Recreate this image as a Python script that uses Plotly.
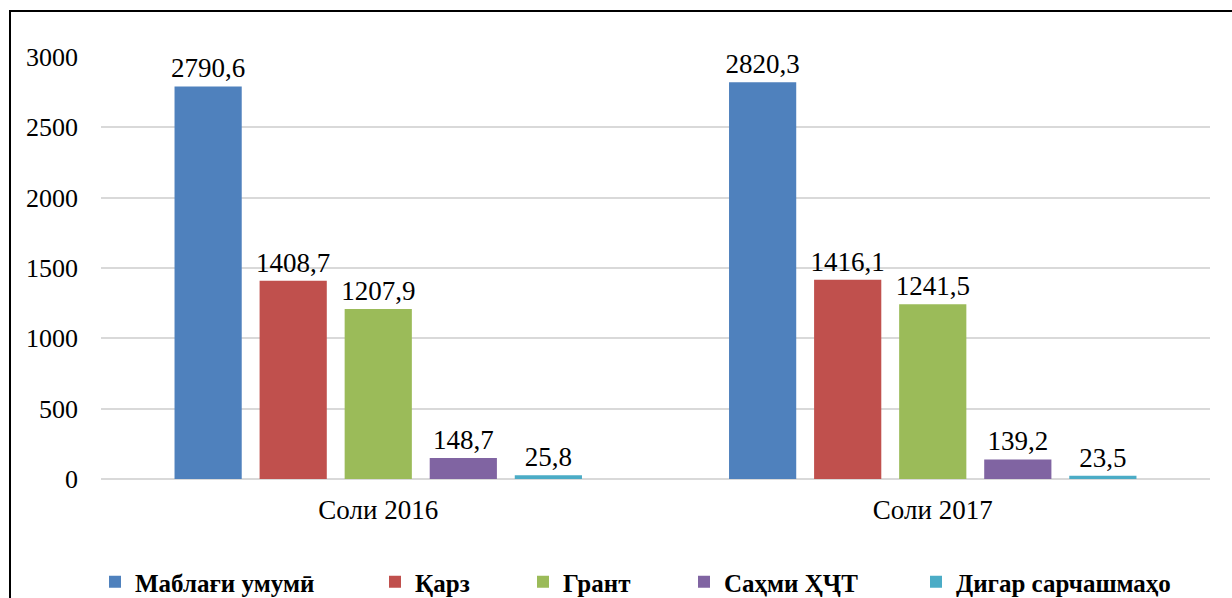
import plotly.graph_objects as go

categories = ["Соли 2016", "Соли 2017"]
series_names = ["Маблағи умумӣ", "Қарз", "Грант", "Саҳми ҲҶТ", "Дигар сарчашмаҳо"]
total = [2790.6, 2820.3]
loan = [1408.7, 1416.1]
grant = [1207.9, 1241.5]
gov = [148.7, 139.2]
other = [25.8, 23.5]
series_values = [total, loan, grant, gov, other]
colors = ["#4F81BD", "#C0504D", "#9BBB59", "#8064A2", "#4BACC6"]
y_ticks = [0, 500, 1000, 1500, 2000, 2500, 3000]

FONT = "Liberation Serif"
L, R, T, B = 101, 22, 57, 119
W, H = 1232, 598
pw = W - L - R
ph = H - T - B

def px_to_paper_x(px):
    return (px - L) / pw

def px_to_paper_y(py):
    return (H - B - py) / ph

legend_text_starts = [135, 415, 563, 724, 956]

fig = go.Figure()
for i, (name, vals, col) in enumerate(zip(series_names, series_values, colors)):
    lg = "legend" if i == 0 else f"legend{i+1}"
    fig.add_trace(go.Bar(
        x=categories, y=vals, name=name,
        marker=dict(color=col, line=dict(width=0)),
        text=[f"{v:.1f}".replace(".", ",") for v in vals],
        textposition="outside",
        constraintext="none",
        textfont=dict(family=FONT, size=27, color="#000000"),
        cliponaxis=False,
        legend=lg,
    ))

layout_legends = {}
for i, xs in enumerate(legend_text_starts):
    key = "legend" if i == 0 else f"legend{i+1}"
    layout_legends[key] = dict(
        x=px_to_paper_x(xs - 40), xanchor="left",
        y=px_to_paper_y(582), yanchor="middle",
        orientation="h",
        font=dict(family=FONT, size=25, color="#000000", weight="bold"),
        bgcolor="rgba(0,0,0,0)",
        borderwidth=0,
    )

fig.update_layout(
    width=W, height=H,
    margin=dict(l=L, r=R, t=T, b=B, autoexpand=False),
    paper_bgcolor="white", plot_bgcolor="white",
    barmode="group", bargap=0.233, bargroupgap=0.21,
    font=dict(family=FONT, size=26, color="#000000"),
    showlegend=True,
    **layout_legends,
    xaxis=dict(showgrid=False, showline=False, ticks="", tickfont=dict(size=27),
               ticklabelstandoff=12),
    yaxis=dict(range=[0, 3000], tickvals=y_ticks, showgrid=True,
               gridcolor="#D9D9D9", gridwidth=2, zeroline=True,
               zerolinecolor="#D9D9D9", zerolinewidth=2, showline=False,
               tickfont=dict(size=26), ticklabelstandoff=22),
    shapes=[dict(type="rect", xref="paper", yref="paper",
                 x0=px_to_paper_x(10), x1=px_to_paper_x(1300),
                 y0=px_to_paper_y(700), y1=px_to_paper_y(11),
                 line=dict(color="#000000", width=2), fillcolor="rgba(0,0,0,0)",
                 layer="below")],
)

fig.write_html(
    "out.html",
    config={"displayModeBar": False},
    post_script="document.body.style.margin='0';document.body.style.overflow='hidden';",
)
